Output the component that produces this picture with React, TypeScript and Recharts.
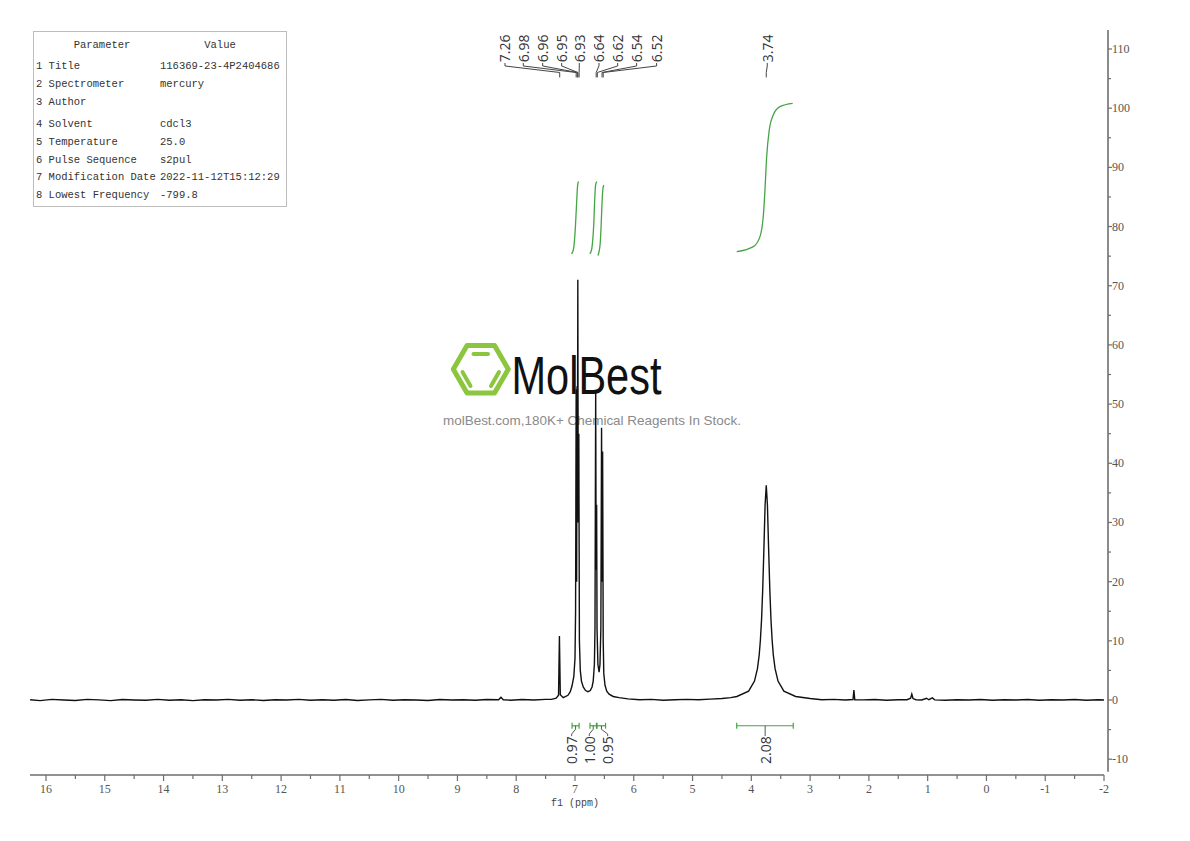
import React from "react";
import {
  ComposedChart,
  Line,
  XAxis,
  YAxis,
  ReferenceLine,
  ReferenceDot,
} from "recharts";

// 1H spectrum trace: [ppm, intensity]
const spectrum: [number, number][] = [
  [16.27, 0.05], [16.1, -0.1], [15.9, 0.1], [15.7, 0.0], [15.5, -0.08], [15.3, 0.1],
  [15.1, 0.02], [14.9, -0.1], [14.7, 0.08], [14.5, 0.0], [14.3, -0.05], [14.1, 0.1],
  [13.9, -0.03], [13.7, 0.05], [13.5, -0.1], [13.3, 0.05], [13.1, 0.0], [12.9, 0.1],
  [12.7, -0.05], [12.5, 0.05], [12.3, -0.08], [12.1, 0.05], [11.9, 0.0], [11.7, 0.1],
  [11.5, -0.05], [11.3, 0.05], [11.1, -0.03], [10.9, 0.08], [10.7, -0.08], [10.5, 0.03],
  [10.3, 0.1], [10.1, -0.05], [9.9, 0.05], [9.7, 0.0], [9.5, -0.08], [9.3, 0.08],
  [9.1, 0.0], [8.9, 0.05], [8.7, -0.05], [8.5, 0.08], [8.3, 0.05], [8.26, 0.45],
  [8.22, 0.05], [8.1, -0.03], [7.9, 0.08], [7.7, 0.0], [7.5, 0.1], [7.4, 0.1],
  [7.32, 0.3], [7.28, 0.8], [7.265, 10.8], [7.25, 0.9], [7.2, 0.4], [7.12, 0.8],
  [7.08, 1.4], [7.05, 2.4], [7.02, 4.0], [7.0, 7.0], [6.99, 15], [6.98, 52.5],
  [6.972, 20], [6.965, 53], [6.958, 35], [6.952, 71], [6.945, 30], [6.935, 45],
  [6.925, 10], [6.91, 5], [6.89, 3.2], [6.86, 2.2], [6.82, 1.6], [6.78, 1.4],
  [6.74, 1.6], [6.71, 2.2], [6.69, 3.2], [6.67, 6], [6.66, 12], [6.648, 52],
  [6.64, 22], [6.632, 33], [6.625, 12], [6.61, 6], [6.59, 4.7], [6.575, 6],
  [6.56, 12], [6.548, 46], [6.54, 20], [6.53, 42], [6.52, 10], [6.51, 4.5],
  [6.49, 2.5], [6.46, 1.5], [6.42, 1.0], [6.35, 0.6], [6.25, 0.4], [6.1, 0.2],
  [5.9, 0.05], [5.7, 0.1], [5.5, -0.05], [5.3, 0.05], [5.1, 0.1], [4.9, 0.05],
  [4.7, 0.15], [4.5, 0.25], [4.35, 0.4], [4.246, 0.6], [4.046, 1.5], [3.946, 3.2],
  [3.896, 5.3], [3.866, 7.6], [3.846, 10.1], [3.826, 13.6], [3.806, 18.8], [3.786, 25.6],
  [3.766, 32.9], [3.746, 36.3], [3.726, 32.9], [3.706, 25.6], [3.686, 18.8], [3.666, 13.6],
  [3.646, 10.1], [3.626, 7.6], [3.596, 5.3], [3.546, 3.2], [3.446, 1.5], [3.246, 0.6],
  [3.0, 0.25], [2.8, 0.05], [2.6, 0.1], [2.4, 0.0], [2.27, 0.08], [2.255, 1.7],
  [2.24, 0.05], [2.1, 0.03], [1.9, 0.08], [1.7, -0.03], [1.5, 0.05], [1.35, 0.05],
  [1.29, 0.3], [1.27, 1.0], [1.25, 0.25], [1.2, 0.05], [1.1, 0.0], [1.02, 0.3],
  [0.98, 0.05], [0.92, 0.35], [0.88, 0.03], [0.7, -0.05], [0.5, 0.05], [0.3, 0.0],
  [0.1, 0.08], [-0.1, -0.03], [-0.3, 0.05], [-0.5, 0.0], [-0.7, 0.08], [-0.9, -0.05],
  [-1.1, 0.05], [-1.3, 0.0], [-1.5, 0.08], [-1.7, -0.03], [-1.9, 0.05], [-2.0, 0.0],
];

// integral curves (green), [ppm, y]
const integralCurves: [number, number][][] = [
  [[7.06, 75.4], [7.03, 76.0], [7.01, 77.5], [6.99, 80.5], [6.97, 84.5], [6.955, 87.0], [6.94, 87.6]],
  [[6.75, 75.4], [6.72, 76.0], [6.7, 77.5], [6.68, 80.5], [6.665, 84.5], [6.65, 87.0], [6.63, 87.6]],
  [[6.61, 75.1], [6.59, 75.8], [6.57, 77.3], [6.555, 80.3], [6.54, 84.0], [6.525, 86.4], [6.51, 87.0]],
  [[4.249, 75.75], [3.967, 76.6], [3.853, 78.3], [3.797, 81.7], [3.768, 86.2], [3.739, 91.8],
   [3.695, 96.3], [3.627, 98.85], [3.513, 100.25], [3.297, 100.8]],
];

// integral brackets under the trace
const integralValues = ["0.97", "1.00", "0.95", "2.08"];
const integralFrom = [7.05, 6.745, 6.625, 4.249];
const integralTo = [6.93, 6.635, 6.48, 3.287];
const integralMid = [6.99, 6.69, 6.55, 3.765];
const integralLabelAt = [7.057, 6.757, 6.444, 3.765];

// peak picking labels
const peakLabels = ["7.26", "6.98", "6.96", "6.95", "6.93", "6.64", "6.62", "6.54", "6.52", "3.74"];
const peakPpm = [7.26, 6.98, 6.96, 6.95, 6.93, 6.64, 6.62, 6.54, 6.52, 3.746];
const peakLabelAt = [8.191, 7.88, 7.55, 7.227, 6.927, 6.592, 6.274, 5.951, 5.611, 3.729];

const xTicks = [
  16, 15.5, 15, 14.5, 14, 13.5, 13, 12.5, 12, 11.5, 11, 10.5, 10, 9.5, 9, 8.5, 8, 7.5, 7,
  6.5, 6, 5.5, 5, 4.5, 4, 3.5, 3, 2.5, 2, 1.5, 1, 0.5, 0, -0.5, -1, -1.5, -2,
];
const yTicks = [
  -10, -5, 0, 5, 10, 15, 20, 25, 30, 35, 40, 45, 50, 55, 60, 65, 70, 75, 80, 85, 90, 95,
  100, 105, 110,
];

const paramRows = [
  ["1 Title", "116369-23-4P2404686"],
  ["2 Spectrometer", "mercury"],
  ["3 Author", ""],
  ["4 Solvent", "cdcl3"],
  ["5 Temperature", "25.0"],
  ["6 Pulse Sequence", "s2pul"],
  ["7 Modification Date", "2022-11-12T15:12:29"],
  ["8 Lowest Frequency", "-799.8"],
];
const paramRowY = [65, 83, 101, 123, 141, 159, 176.5, 194];

const X_DOMAIN: [number, number] = [-2.068, 16.272];
const Y_DOMAIN: [number, number] = [-12.67, 113.21];
const AXIS = "#6e6e6e";
const GREEN = "#45a545";
const SERIF = "'Liberation Serif', 'DejaVu Serif', serif";
const MONO = "'Liberation Mono', 'DejaVu Sans Mono', monospace";
const SANS = "'Open Sans', 'Liberation Sans', sans-serif";

const pts = (arr: [number, number][]) => arr.map(([x, y]) => ({ x, y }));

const XTick = (p: any) => {
  const v = p.payload.value;
  const major = Number.isInteger(v);
  return (
    <g>
      <line x1={p.x} x2={p.x} y1={p.y} y2={p.y + (major ? 6 : 4)} stroke={AXIS} strokeWidth={1.2} />
      {major && (
        <text x={p.x} y={p.y + 18} textAnchor="middle" fontFamily={SERIF} fontSize={12} fill="#555">
          {v}
        </text>
      )}
    </g>
  );
};

const YTick = (p: any) => {
  const v = p.payload.value;
  const major = v % 10 === 0;
  return (
    <g>
      <line x1={p.x} x2={p.x + (major ? 4 : 3)} y1={p.y} y2={p.y} stroke={AXIS} strokeWidth={1.2} />
      {major && (
        <text x={p.x + 4} y={p.y + 4} fontFamily={SERIF} fontSize={12} fill="#555">
          {v}
        </text>
      )}
    </g>
  );
};

// rotated label drawn at the dot position
const vLabel = (txt: string) => (p: any) => (
  <text
    x={p.cx}
    y={p.cy}
    transform={`rotate(-90 ${p.cx} ${p.cy})`}
    textAnchor="middle"
    dominantBaseline="central"
    fontFamily={SANS}
    fontSize={14}
    fill="#333"
  >
    {txt}
  </text>
);

function Watermark() {
  const cx = 480.8;
  const cy = 369.2;
  const R = 27.5;
  const h = (R * Math.sqrt(3)) / 2;
  const hex = [
    [cx + R, cy], [cx + R / 2, cy - h], [cx - R / 2, cy - h],
    [cx - R, cy], [cx - R / 2, cy + h], [cx + R / 2, cy + h],
  ].map((q) => q.join(",")).join(" ");
  return (
    <svg width={1190} height={841} style={{ position: "absolute", left: 0, top: 0 }}>
      <polygon points={hex} fill="none" stroke="#8cc63f" strokeWidth={5} strokeLinejoin="round" />
      <g stroke="#8cc63f" strokeWidth={4} strokeLinecap="round">
        <line x1={473.5} y1={354} x2={488} y2={354} />
        <line x1={462.5} y1={372} x2={470.5} y2={386} />
        <line x1={499} y1={372} x2={491} y2={386} />
      </g>
      <text
        x={511.5}
        y={393.5}
        fontFamily="'Liberation Sans Narrow', 'Liberation Sans', sans-serif"
        fontSize={53}
        textLength={150}
        lengthAdjust="spacingAndGlyphs"
        fill="#111"
      >
        MolBest
      </text>
      <text
        x={443}
        y={425}
        fontFamily="'Liberation Sans', Arial, sans-serif"
        fontSize={13}
        textLength={298}
        lengthAdjust="spacingAndGlyphs"
        fill="#8a8a8a"
      >
        molBest.com,180K+ Chemical Reagents In Stock.
      </text>
    </svg>
  );
}

function ParamTable() {
  return (
    <svg width={1190} height={841} style={{ position: "absolute", left: 0, top: 0, pointerEvents: "none" }}>
      <rect x={33.5} y={31.5} width={253} height={175} fill="#fff" stroke="#bdbdbd" />
      <g fontFamily={MONO} fontSize={10.5} fill="#333">
        <text x={102} y={47.5} textAnchor="middle">Parameter</text>
        <text x={220} y={47.5} textAnchor="middle">Value</text>
        {paramRows.map((r, i) => (
          <g key={i}>
            <text x={36} y={paramRowY[i] + 3.5}>{r[0]}</text>
            <text x={160} y={paramRowY[i] + 3.5}>{r[1]}</text>
          </g>
        ))}
      </g>
      <text x={575} y={806} textAnchor="middle" fontFamily={MONO} fontSize={10} fill="#444">
        f1 (ppm)
      </text>
    </svg>
  );
}

export default function App() {
  return (
    <div style={{ position: "absolute", left: 0, top: 0, width: 1190, height: 841, background: "#fff" }}>
      <Watermark />
      <div style={{ position: "absolute", left: 0, top: 0 }}>
        <ComposedChart width={1190} height={841} margin={{ top: 30, right: 42, bottom: 36, left: 30 }}>
          <XAxis
            type="number"
            dataKey="x"
            domain={X_DOMAIN}
            reversed
            allowDataOverflow
            ticks={xTicks}
            interval={0}
            tick={XTick}
            tickLine={false}
            axisLine={false}
            tickSize={0}
            tickMargin={0}
            height={30}
          />
          <YAxis
            type="number"
            orientation="right"
            domain={Y_DOMAIN}
            allowDataOverflow
            ticks={yTicks}
            interval={0}
            tick={YTick}
            tickLine={false}
            axisLine={false}
            tickSize={0}
            tickMargin={0}
            width={40}
          />

          {/* axis lines */}
          <ReferenceLine
            segment={[{ x: 16.272, y: -12.67 }, { x: -2, y: -12.67 }]}
            stroke={AXIS}
            strokeWidth={1.5}
            ifOverflow="visible"
          />
          <ReferenceLine
            segment={[{ x: -2.068, y: 113.21 }, { x: -2.068, y: -12.1 }]}
            stroke={AXIS}
            strokeWidth={1.6}
            ifOverflow="visible"
          />

          <Line
            data={pts(spectrum)}
            dataKey="y"
            type="linear"
            stroke="#111"
            strokeWidth={1.4}
            dot={false}
            isAnimationActive={false}
          />

          {integralCurves.map((c, i) => (
            <Line
              key={`int${i}`}
              data={pts(c)}
              dataKey="y"
              type="monotone"
              stroke={GREEN}
              strokeWidth={1.3}
              dot={false}
              isAnimationActive={false}
            />
          ))}

          {/* integral brackets */}
          {integralValues.map((v, i) => (
            <ReferenceLine
              key={`bar${i}`}
              segment={[{ x: integralFrom[i], y: -4.35 }, { x: integralTo[i], y: -4.35 }]}
              stroke={GREEN}
              strokeWidth={1.2}
              ifOverflow="visible"
            />
          ))}
          {integralValues.map((v, i) => (
            <ReferenceLine
              key={`capa${i}`}
              segment={[{ x: integralFrom[i], y: -3.85 }, { x: integralFrom[i], y: -4.85 }]}
              stroke={GREEN}
              strokeWidth={1.2}
              ifOverflow="visible"
            />
          ))}
          {integralValues.map((v, i) => (
            <ReferenceLine
              key={`capb${i}`}
              segment={[{ x: integralTo[i], y: -3.85 }, { x: integralTo[i], y: -4.85 }]}
              stroke={GREEN}
              strokeWidth={1.2}
              ifOverflow="visible"
            />
          ))}
          {integralValues.map((v, i) => (
            <Line
              key={`con${i}`}
              data={pts([
                [integralMid[i], -4.35],
                [integralMid[i], -4.95],
                [integralLabelAt[i], -5.75],
                [integralLabelAt[i], -6.1],
              ])}
              dataKey="y"
              type="linear"
              stroke="#555"
              strokeWidth={1}
              dot={false}
              isAnimationActive={false}
            />
          ))}
          {integralValues.map((v, i) => (
            <ReferenceDot
              key={`il${i}`}
              x={integralLabelAt[i]}
              y={-8.45}
              ifOverflow="visible"
              shape={vLabel(v)}
            />
          ))}

          {/* peak labels and leaders */}
          {peakLabels.map((v, i) => (
            <Line
              key={`lead${i}`}
              data={pts([
                [peakLabelAt[i], 107.64],
                [peakLabelAt[i], 107.13],
                [peakPpm[i], 106.03],
                [peakPpm[i], 105.2],
              ])}
              dataKey="y"
              type="linear"
              stroke="#444"
              strokeWidth={1}
              dot={false}
              isAnimationActive={false}
            />
          ))}
          {peakLabels.map((v, i) => (
            <ReferenceDot
              key={`pl${i}`}
              x={peakLabelAt[i]}
              y={110.1}
              ifOverflow="visible"
              shape={vLabel(v)}
            />
          ))}
        </ComposedChart>
      </div>
      <ParamTable />
    </div>
  );
}
